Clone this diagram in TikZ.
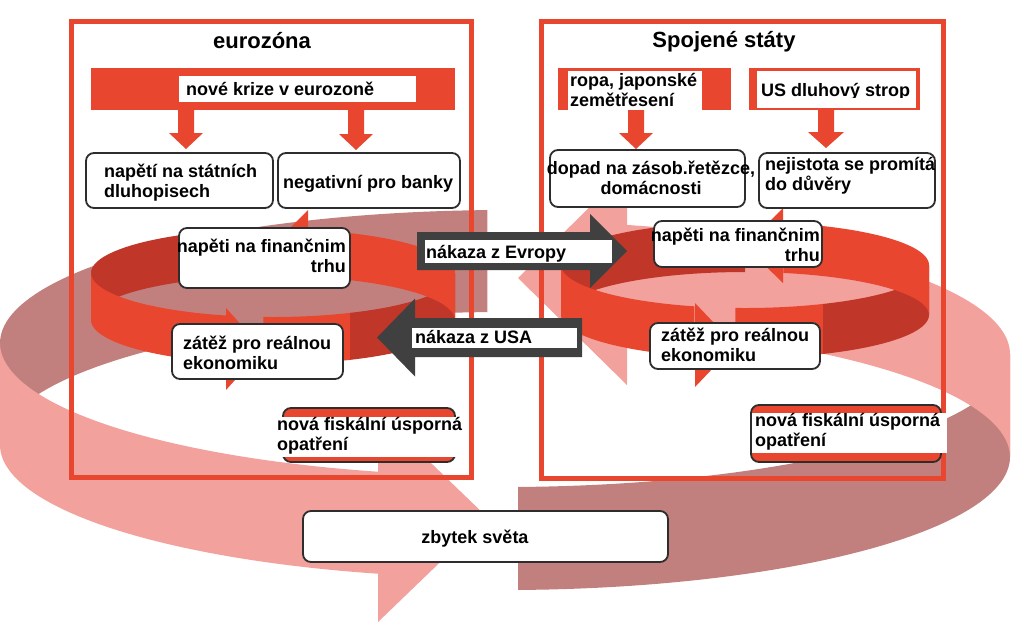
\documentclass[tikz,border=0pt]{standalone}
\usepackage{fontspec}
\setmainfont{Liberation Sans}
\usetikzlibrary{calc}
\definecolor{redA}{RGB}{233,70,48}
\definecolor{redD}{RGB}{192,55,42}
\definecolor{bpink}{RGB}{242,161,156}
\definecolor{bbrown}{RGB}{193,128,125}
\definecolor{darkar}{RGB}{64,64,64}
\definecolor{edgec}{RGB}{45,45,45}
\newcommand\lstr{\rule[-4pt]{0pt}{17.5pt}}
% band segment: color, cx, cy, rx, ry, h, t1, t2
\newcommand\bandseg[8]{\fill[#1] plot[domain=#7:#8,samples=50,variable=\t] ({#2+#4*cos(\t)},{#3+#5*sin(\t)}) -- plot[domain=#8:#7,samples=50,variable=\t] ({#2+#4*cos(\t)},{#3+#6+#5*sin(\t)}) -- cycle;}
% horizontal block arrow: color, S, T, half shaft, half head, signed head offset
\newcommand\blockH[6]{\fill[#1] ($(#2)+(0,-#4)$) -- ($(#3)+(#6,-#4)$) -- ($(#3)+(#6,-#5)$) -- (#3) -- ($(#3)+(#6,#5)$) -- ($(#3)+(#6,#4)$) -- ($(#2)+(0,#4)$) -- cycle;}
% vertical (down) block arrow
\newcommand\blockV[6]{\fill[#1] ($(#2)+(-#4,0)$) -- ($(#3)+(-#4,-#6)$) -- ($(#3)+(-#5,-#6)$) -- (#3) -- ($(#3)+(#5,-#6)$) -- ($(#3)+(#4,-#6)$) -- ($(#2)+(#4,0)$) -- cycle;}
\tikzset{
  box/.style={draw=edgec, line width=1.8pt, rounded corners=8pt, fill=white, inner sep=0pt},
  txt/.style={font=\bfseries\fontsize{18}{20}\selectfont, inner sep=0pt, align=left},
  ttl/.style={font=\bfseries\fontsize{22}{26}\selectfont, inner sep=0pt},
  frame/.style={draw=redA, line width=5pt, inner sep=0pt},
  plate/.style={inner sep=0pt, minimum width=#1},
  wlab/.style={fill=white, inner sep=0pt},
  rbar/.style={fill=redA, inner sep=0pt},
}
\begin{document}
\begin{tikzpicture}[x=1pt,y=-1pt]
\useasboundingbox (0,0) rectangle (1024,627);
\fill[white] (0,0) rectangle (1024,627);

% ---- big "rest of world" band ----
\bandseg{bbrown}{505}{343}{505}{133}{102}{180}{268}
\bandseg{bbrown}{505}{354}{505}{133}{103}{0}{88.5}
\bandseg{bpink}{505}{343}{505}{133}{102}{104.5}{180}
\bandseg{bpink}{505}{354}{505}{133}{103}{-76}{0}
\fill[bpink] (378,412) -- (378,622) -- (487,517) -- cycle;
\fill[bpink] (627,170) -- (627,385) -- (518,278) -- cycle;

% ---- frames ----
\node[frame, minimum width=400pt, minimum height=456pt] (EZ) at (271,249) {};
\node[frame, minimum width=402pt, minimum height=457pt] (USF) at (742,249.5) {};
\node[ttl, anchor=base] (tEZ) at (262,48) {eurozóna};
\node[ttl, anchor=base] (tUS) at (724,47) {Spojené státy};

% ---- left ring ----
\bandseg{redD}{273}{273}{182}{44}{47}{180}{269}
\bandseg{redD}{273}{273}{182}{44}{47}{0}{65}
\bandseg{redA}{273}{273}{182}{44}{47}{105}{180}
\bandseg{redA}{273}{273}{182}{44}{47}{65}{93}
\bandseg{redA}{273}{273}{182}{44}{47}{-79}{0}
\fill[redA] (308,210) -- (308,285) -- (270,248) -- cycle;
\fill[redA] (226,308) -- (226,390) -- (263,349) -- cycle;

% ---- right ring ----
\bandseg{redD}{745}{265}{184}{43}{50}{180}{270}
\bandseg{redD}{745}{265}{184}{43}{50}{0}{65}
\bandseg{redA}{745}{265}{184}{43}{50}{106}{180}
\bandseg{redA}{745}{265}{184}{43}{50}{65}{93}
\bandseg{redA}{745}{265}{184}{43}{50}{-78}{0}
\fill[redA] (783,208) -- (783,283) -- (745,246) -- cycle;
\fill[redA] (695,303) -- (695,387) -- (735,345) -- cycle;

% ---- contagion arrows ----
\coordinate (evS) at (417,251);
\coordinate (evT) at (627,251);
\blockH{darkar}{evS}{evT}{19}{37}{-37}
\node[wlab, minimum width=187pt, minimum height=23pt] (evL) at (518.5,251.5) {};
\node[txt, anchor=west] (evTx) at (426,253.25) {\lstr nákaza z Evropy};
\coordinate (usS) at (582,337.5);
\coordinate (usT) at (377,337.5);
\blockH{darkar}{usS}{usT}{19.5}{39}{38}
\node[wlab, minimum width=165pt, minimum height=20pt] (usL) at (494.5,338) {};
\node[txt, anchor=west] (usTx) at (415,338.25) {\lstr nákaza z USA};

% ---- top bars ----
\node[rbar, minimum width=364pt, minimum height=42pt] (barL) at (273,89) {};
\node[wlab, minimum width=237pt, minimum height=26pt] (barLw) at (297.5,89) {};
\node[txt, anchor=west] (barLt) at (186,90.25) {\lstr nové krize v eurozoně};

\node[rbar, minimum width=173pt, minimum height=42pt] (barR1) at (644.5,89) {};
\node[wlab, minimum width=134pt, minimum height=39pt] (barR1w) at (635,90.5) {};
\node[txt, anchor=west] (barR1t) at (570,91.25) {\lstr ropa, japonské\\\lstr zemětřesení};

\node[rbar, minimum width=171pt, minimum height=42pt] (barR2) at (834.5,89) {};
\node[wlab, minimum width=159pt, minimum height=37pt] (barR2w) at (836.5,89.5) {};
\begin{scope}
\clip (757,82) rectangle (916,97.5);
\node[txt, anchor=west] (barR2t) at (761,91.25) {\lstr US dluhový strop};
\end{scope}

% ---- down arrows ----
\coordinate (dA1) at (186,110); \coordinate (dB1) at (186,149);
\coordinate (dA2) at (356,110); \coordinate (dB2) at (356,150);
\coordinate (dA3) at (636,110); \coordinate (dB3) at (636,149);
\coordinate (dA4) at (826,110); \coordinate (dB4) at (826,148);
\blockV{redA}{dA1}{dB1}{8}{17}{16}
\blockV{redA}{dA2}{dB2}{8}{17}{16}
\blockV{redA}{dA3}{dB3}{8}{17}{16}
\blockV{redA}{dA4}{dB4}{8}{18}{16}

% ---- left boxes ----
\node[box, minimum width=187pt, minimum height=55pt] (Ld) at (179.5,180.5) {};
\node[txt, anchor=west] (Ldt) at (104,182.25) {\lstr napětí na státních\\\lstr dluhopisech};
\node[box, minimum width=182pt, minimum height=55pt] (Lb) at (369,180.5) {};
\node[txt, anchor=west] (Lbt) at (283,183.25) {\lstr negativní pro banky};
\node[box, minimum width=171pt, minimum height=60pt] (Lf) at (264.5,258) {};
\node[txt, anchor=east, align=right] (Lft) at (346,257.25) {\lstr napěti na finančnim\\\lstr trhu};
\node[box, minimum width=171pt, minimum height=55pt] (Lz) at (257.5,351.5) {};
\node[txt, anchor=west] (Lzt) at (183,354.25) {\lstr zátěž pro reálnou\\\lstr ekonomiku};
\node[box, fill=redA, minimum width=172pt, minimum height=54pt] (Ln) at (369,435) {};
\node[wlab, minimum width=187pt, minimum height=40pt] (Lnw) at (369.5,437) {};
\node[txt, anchor=west] (Lnt) at (277,436) {\lstr nová fiskální úsporná\\\lstr opatření};

% ---- right boxes ----
\node[box, minimum width=195pt, minimum height=57pt] (Rd) at (647.5,178.5) {};
\node[txt, align=center] (Rdt) at (651,179.25) {\lstr dopad na zásob.řetězce,\\\lstr domácnosti};
\node[box, minimum width=176pt, minimum height=55pt] (Rn) at (847,180.5) {};
\node[txt, anchor=west] (Rnt) at (765,175.25) {\lstr nejistota se promítá\\\lstr do důvěry};
\node[box, minimum width=168pt, minimum height=46pt] (Rf) at (738,244) {};
\node[txt, anchor=east, align=right] (Rft) at (820,246.25) {\lstr napěti na finančnim\\\lstr trhu};
\node[box, minimum width=170pt, minimum height=46pt] (Rz) at (735,346) {};
\node[txt, anchor=west] (Rzt) at (661,347) {\lstr zátěž pro reálnou\\\lstr ekonomiku};
\node[box, fill=redA, minimum width=190pt, minimum height=57pt] (Rnv) at (846,433.5) {};
\node[wlab, minimum width=195pt, minimum height=40pt] (Rnvw) at (849.5,433) {};
\node[txt, anchor=west] (Rnvt) at (755,432) {\lstr nová fiskální úsporná\\\lstr opatření};

% ---- rest of world ----
\node[box, minimum width=365pt, minimum height=51pt] (W) at (485.5,536.5) {};
\node[txt] (Wt) at (475,538.25) {\lstr zbytek světa};
\end{tikzpicture}
\end{document}
